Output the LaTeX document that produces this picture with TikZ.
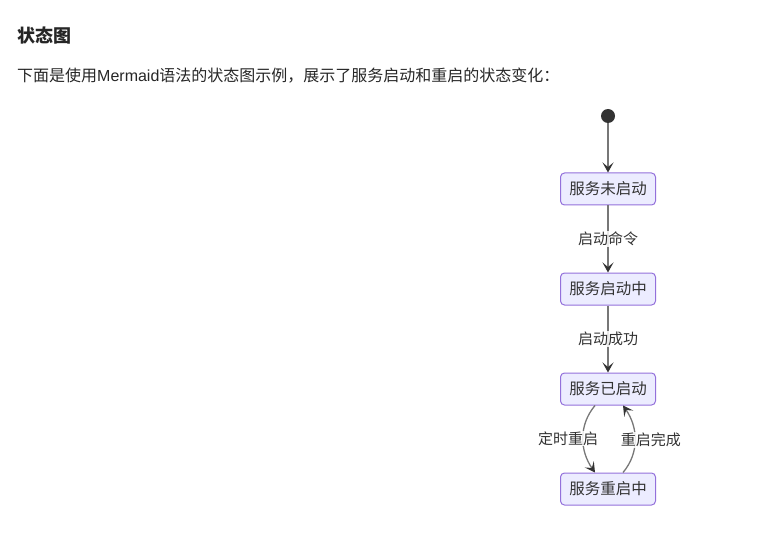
\documentclass[tikz,border=0pt]{standalone}
\usepackage{fontspec}
\usepackage{xcolor}
\usepackage{tikz}
\usetikzlibrary{arrows,arrows.meta,positioning}
\setmainfont{Noto Sans CJK SC}
\newfontfamily\latinfont{Liberation Sans}
\definecolor{statefill}{HTML}{ECECFF}
\definecolor{stateline}{HTML}{9370DB}
\definecolor{inkgray}{HTML}{333333}
\definecolor{edgegray}{HTML}{777777}

\begin{document}
\begin{tikzpicture}[x=1pt, y=-1pt,
    state/.style={rectangle, draw=stateline, line width=1pt, fill=statefill, rounded corners=4pt, minimum width=95pt, minimum height=32pt, text=inkgray, font=\fontsize{15.5}{18}\selectfont},
    startdot/.style={circle, fill=inkgray, minimum size=14pt, inner sep=0pt},
    edgelabel/.style={fill=white, fill opacity=0.85, text opacity=1, text=inkgray, inner sep=1pt, font=\fontsize{15}{18}\selectfont},
    arrow/.style={draw=edgegray, -{Stealth[length=10pt, width=11pt, inset=4.5pt, color=inkgray]}, line width=1.3pt},
    node distance=67pt
]
\useasboundingbox (0,0) rectangle (783,537);

\node[anchor=west, inner sep=0pt, font=\fontsize{18}{22}\selectfont\bfseries, text=black!85] (title) at (17,36) {状态图};
\node[anchor=west, inner sep=0pt, font=\fontsize{16}{19}\selectfont, text=black!85] (intro) at (17,76) {下面是使用{\latinfont Mermaid}语法的状态图示例，展示了服务启动和重启的状态变化：};

\node[startdot] (start) at (608,116) {};
\node[state] (notstarted) at (608,189) {服务未启动};
\node[state, below=of notstarted] (starting) {服务启动中};
\node[state, below=of starting] (started) {服务已启动};
\node[state, below=of started] (restarting) {服务重启中};

\draw[arrow] (start) -- (notstarted);
\draw[arrow] (notstarted) -- node[edgelabel] {启动命令} (starting);
\draw[arrow] (starting) -- node[edgelabel] {启动成功} (started);
\draw[arrow] ([xshift=-13pt]started.south) to[out=230, in=125] node[edgelabel, midway, xshift=-15pt] {定时重启} ([xshift=-13pt]restarting.north);
\draw[arrow] ([xshift=15pt]restarting.north) to[out=50, in=-55] node[edgelabel, midway, xshift=16pt] {重启完成} ([xshift=15pt]started.south);

\end{tikzpicture}
\end{document}
